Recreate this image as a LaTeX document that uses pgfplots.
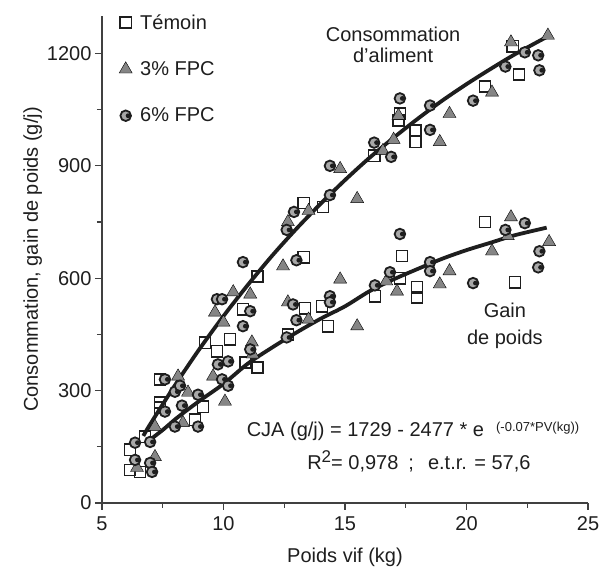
\documentclass[border=0pt]{standalone}
\usepackage{pgfplots}
\pgfplotsset{compat=1.18}
\usepackage{fontspec}
\setmainfont{Liberation Sans}
\definecolor{ink}{HTML}{1E1E1E}
\definecolor{axgray}{HTML}{404040}
\definecolor{trigray}{HTML}{858585}
\definecolor{cfill}{HTML}{A8A8A8}
\newcommand\fs{\fontsize{20}{24}\selectfont}
% circle with black ring, grey fill and black core (the "6% FPC" mark)
\pgfdeclareplotmark{cmark}{%
  \pgfsetlinewidth{1.8pt}%
  \pgfsetstrokecolor{ink}%
  \pgfsetfillcolor{cfill}%
  \pgfpathcircle{\pgfpointorigin}{\pgfplotmarksize}%
  \pgfusepath{fill,stroke}%
  \pgfsetfillcolor{ink}%
  \pgfpathcircle{\pgfpoint{0.45\pgfplotmarksize}{0pt}}{0.45\pgfplotmarksize}%
  \pgfusepath{fill}%
}
\begin{document}
\begin{tikzpicture}
\begin{axis}[name=ax,
  scale only axis, width=486pt, height=487pt,
  xmin=5, xmax=25, ymin=0, ymax=1300,
  axis lines=left, axis line style={axgray, line width=1.1pt, -},
  xtick={5,10,...,25}, ytick={0,300,...,1200},
  minor x tick num=1, minor y tick num=1,
  tick align=outside, major tick length=7pt, minor tick length=5pt,
  tick style={axgray, line width=1.1pt},
  tick label style={font=\fs, text=ink},
  xticklabel style={yshift=-3pt},
  /pgf/number format/assume math mode=true,
  /pgf/number format/1000 sep={},
  xlabel={Poids vif (kg)}, ylabel={Consommation, gain de poids (g/j)},
  label style={font=\fs, text=ink},
  xlabel style={yshift=-10pt}, ylabel style={yshift=-2pt},
  clip=false,
  legend style={draw=none, fill=none, at={(0.035,1.008)}, anchor=north west,
    font=\fs, text=ink, row sep=27pt, inner sep=0pt,
    /tikz/every odd column/.append style={column sep=6pt}},
  legend cell align=left,
]
% Temoin
\addplot[only marks, mark=square, mark size=5.6pt, mark options={draw=ink, line width=1.5pt}] coordinates {
(6.15,142)(6.15,88)(6.56,83)(6.77,177)(7.39,330)(7.39,268)(7.39,254)
(9.24,428)(9.73,405)(10.27,437)(9.16,257)(8.83,222)(10.9,375)(11.4,362)
(10.8,517)(13.3,801)(14.1,790)(13.3,656)(11.4,605)(13.35,520)(14.05,525)
(14.3,472)(12.65,450)(17.26,1039)(17.2,1021)(17.9,994)(17.9,964)(16.2,927)
(20.76,1112)(21.9,1219)(22.16,1144)(17.35,659)(17.26,600)(17.96,576)
(17.96,549)(16.23,552)(20.76,750)(22.0,589)
};
\addlegendentry{Témoin}
% 3% FPC
\addplot[only marks, mark=triangle*, mark size=7.5pt, mark options={fill=trigray, draw=none}] coordinates {
(6.44,94)(7.18,123)(7.18,204)(8.13,338)(8.54,295)(8.33,214)(9.65,509)
(10.4,563)(11.1,557)(10.0,482)(9.57,338)(10.06,271)(11.2,397)(14.8,892)
(15.5,812)(13.5,780)(12.65,750)(12.45,632)(14.8,597)(12.65,536)(13.5,490)
(15.5,472)(11.17,429)(17.2,1034)(19.3,1039)(18.9,964)(17.0,970)(16.56,940)
(21.05,1096)(21.83,1230)(23.35,1248)(17.14,565)(16.7,592)(18.9,584)
(19.3,619)(21.05,672)(21.83,763)(21.7,713)(23.4,697)
};
\addlegendentry{3\% FPC}
% 6% FPC
\addplot[only marks, mark=cmark, mark size=5.3pt] coordinates {
(6.36,161)(6.36,115)(6.98,107)(7.06,83)(6.98,163)(7.59,330)(8.0,297)
(8.21,313)(7.59,244)(8.29,260)(8.0,204)(8.95,289)(8.95,204)(9.73,544)
(9.94,544)(11.1,512)(10.8,472)(9.77,370)(10.19,378)(9.94,330)(10.19,313)
(11.1,410)(14.38,900)(14.38,822)(12.9,777)(12.6,729)(13.0,648)(10.8,643)
(12.86,530)(13.0,488)(14.38,552)(14.38,536)(12.6,442)(17.26,1080)
(18.5,1061)(18.5,996)(20.27,1074)(21.6,1165)(22.4,1203)(22.95,1195)
(23.0,1155)(16.2,962)(16.9,924)(17.26,718)(18.5,643)(18.5,619)(16.85,616)
(16.23,581)(20.27,587)(21.6,729)(22.4,747)(23.0,672)(22.95,629)
};
\addlegendentry{6\% FPC}
% fitted curves
\addplot[ink, line width=3.8pt, smooth, no marks] coordinates {
(6.7,179)(7,212)(8,314)(9,410)(10,499)(11,582)(12,660)(13,732)(14,799)
(15,862)(16,921)(17,975)(18,1026)(19,1074)(20,1118)(21,1159)(22,1198)(23.3,1244)
};
\addplot[ink, line width=3.8pt, smooth, no marks] coordinates {
(6.8,160)(7.5,195)(8.1,228)(9,272)(10,318)(11,372)(12,415)(13,455)(14,492)
(15,525)(16,565)(17,597)(18,625)(19,652)(20,675)(21,695)(22,715)(23.3,735)
};
\node[font=\fs, text=ink, align=center, inner sep=0pt] at (axis cs:16.98,1222)
  {Consommation\\[-3pt]d'aliment};
\node[font=\fs, text=ink, align=center, inner sep=0pt] at (axis cs:21.58,474)
  {Gain\\[3pt]de poids};
\node[font=\fs, text=ink, anchor=west, inner sep=0pt] at (axis cs:10.95,190)
  {CJA (g/j) = 1729 - 2477 * e\hspace{12pt}\raisebox{5pt}{\fontsize{13}{15}\selectfont(-0.07*PV(kg))}};
\node[font=\fs, text=ink, anchor=west, inner sep=0pt] at (axis cs:13.44,110)
  {R\raisebox{7pt}{\fontsize{17}{19}\selectfont 2}= 0,978\hspace{10pt};\hspace{14pt}e.t.r. = 57,6};
\end{axis}
\pgfresetboundingbox
\path ([shift={(-102pt,-66pt)}]ax.south west) rectangle ([shift={(14pt,16pt)}]ax.north east);
\end{tikzpicture}
\end{document}
